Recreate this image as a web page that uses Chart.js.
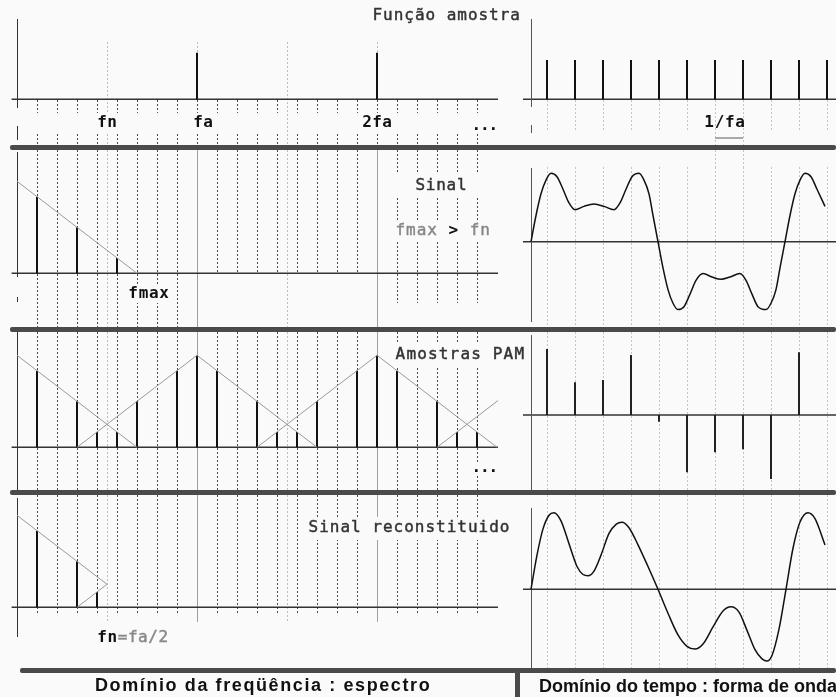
<!DOCTYPE html>
<html>
<head>
<meta charset="utf-8">
<script src="https://cdn.jsdelivr.net/npm/chart.js@4/dist/chart.umd.min.js"></script>
<style>
  html, body { margin: 0; padding: 0; background: #fafafa; }
  #stage { position: relative; width: 836px; height: 697px; overflow: hidden; background: #fafafa; }
  #stage canvas { position: absolute; }
  .rule { position: absolute; background: #4a4a4a; }
  .caption { position: absolute; font: bold 18px "Liberation Sans", Arial, sans-serif; color: #111;
             white-space: nowrap; line-height: 20px; }
</style>
</head>
<body>
<div id="stage">
  <canvas id="L1"></canvas><canvas id="L2"></canvas><canvas id="L3"></canvas><canvas id="L4"></canvas>
  <canvas id="R1"></canvas><canvas id="R2"></canvas><canvas id="R3"></canvas><canvas id="R4"></canvas>
  <div class="rule" style="left:10px;top:145px;width:826px;height:5px;border-radius:2px"></div>
  <div class="rule" style="left:10px;top:327px;width:826px;height:5px;border-radius:2px"></div>
  <div class="rule" style="left:10px;top:490px;width:826px;height:5px;border-radius:2px"></div>
  <div class="rule" style="left:20px;top:668px;width:816px;height:5px;border-radius:2px"></div>
  <div class="rule" style="left:515px;top:668px;width:5px;height:29px"></div>
  <div class="caption" style="left:95px;top:675px;letter-spacing:1.6px">Domínio da freqüência : espectro</div>
  <div class="caption" style="left:539px;top:676px;letter-spacing:0px">Domínio do tempo : forma de onda</div>
</div>
<script>
// ---------- frequency domain (unit = grid step, fa = 9, fn = fa/2) ----------
const freqGrid      = [1,2,3,4,5,6,7,8,9,10,11,12,13,14,15,16,17,18,19,20,21,22,23];
const nyquistLines  = [4.5, 13.5];
const rateLines     = [9, 18];

const pulseFreqs    = [9, 18];
const pulseAmps     = [1, 1];

const signalFreqs   = [1, 3, 5];
const signalAmps    = [5, 3, 1];
const signalEnvelope = [[[0, 6], [6, 0]]];

const pamFreqs = [1, 3, 4, 5, 6, 8, 9, 10, 12, 13, 14, 15, 17, 18, 19, 21, 22, 23];
const pamAmps  = [5, 3, 1, 1, 3, 5, 6, 5, 3, 1, 1, 3, 5, 6, 5, 3, 1, 1];
const pamEnvelope = [
  [[0, 6], [6, 0]],
  [[3, 0], [9, 6], [15, 0]],
  [[12, 0], [18, 6], [24, 0]],
  [[21, 0], [24.05, 3.05]]
];

const recFreqs    = [1, 3, 4];
const recAmps     = [5, 3, 1];
const recEnvelope = [[[0, 6], [4.5, 1.5], [3, 0]]];

// ---------- time domain ----------
const sampleTimes = [16, 44, 72, 100, 128, 156, 184, 212, 240, 268, 296];
const sampleAmps  = [1, 1, 1, 1, 1, 1, 1, 1, 1, 1, 1];

const signalT = [0, 5, 10, 15, 20, 26, 32, 38, 44, 53, 63, 73, 83, 89, 95, 101, 108, 113, 118, 122, 127,
                 132, 137, 142, 147, 153, 159, 165, 172, 181, 190, 199, 209, 215, 221, 227, 235, 240, 245, 249, 254,
                 259, 264, 269, 274, 280, 286, 294];
const signalV = [0, 2.3, 4.2, 5.4, 6.0, 5.7, 4.6, 3.4, 2.8, 3.1, 3.3, 3.1, 2.8, 3.4, 4.6, 5.7, 6.0, 5.4, 4.2, 2.3, 0,
                 -2.3, -4.2, -5.4, -5.95, -5.7, -4.6, -3.4, -2.8, -3.1, -3.3, -3.1, -2.8, -3.4, -4.6, -5.7, -5.95, -5.4, -4.2, -2.3, 0,
                 2.3, 4.2, 5.4, 6.0, 5.7, 4.6, 3.1];

const pamT = [16, 44, 72, 100, 128, 156, 184, 212, 240, 268];
const pamV = [5.79, 2.87, 3.07, 5.26, -0.59, -5.03, -3.27, -3.01, -5.61, 5.50];

const recT = [0, 6, 12, 18, 23, 30, 38, 46, 52, 57, 63, 70, 78, 85, 91, 98, 107, 117, 127,
              137, 147, 156, 164, 172, 182, 192, 200, 208, 216, 224, 231, 236, 241, 248, 255,
              262, 269, 277, 284, 294];
const recV = [0, 3.0, 5.3, 6.5, 6.72, 6.0, 4.0, 2.0, 1.3, 1.19, 1.6, 3.0, 4.9, 5.7, 5.88, 5.4, 3.9, 2.0, 0,
              -2.1, -4.0, -5.0, -5.24, -4.8, -3.3, -1.9, -1.53, -2.0, -3.6, -5.3, -6.1, -6.29, -5.8, -3.5, 0,
              3.6, 5.9, 6.72, 6.2, 3.89];

// ---------- helpers ----------
const MONO = '"DejaVu Sans Mono", "Liberation Mono", monospace';
const BG = '#fafafa';

function stems(xs, ys) {
  const d = [];
  xs.forEach((x, i) => { d.push({x, y: 0}, {x, y: ys[i]}, {x, y: null}); });
  return d;
}
function polylines(list) {
  const d = [];
  list.forEach(poly => { poly.forEach(p => d.push({x: p[0], y: p[1]})); d.push({x: poly[poly.length - 1][0], y: null}); });
  return d;
}
function series(xs, ys) { return xs.map((x, i) => ({x, y: ys[i]})); }

function stemSet(data, color, width) {
  return { data, borderColor: color, borderWidth: width, pointRadius: 0, spanGaps: false, tension: 0 };
}
function traceSet(data, color, width, smooth) {
  const s = { data, borderColor: color, borderWidth: width, pointRadius: 0, spanGaps: false, tension: 0 };
  if (smooth) s.cubicInterpolationMode = 'monotone';
  return s;
}

function vseg(ctx, x, y0, y1, color, width, dash) {
  ctx.save();
  ctx.strokeStyle = color; ctx.lineWidth = width; ctx.setLineDash(dash || []);
  const xx = Math.round(x) + (width % 2 ? 0.5 : 0);
  ctx.beginPath(); ctx.moveTo(xx, y0); ctx.lineTo(xx, y1); ctx.stroke();
  ctx.restore();
}
function hseg(ctx, x0, x1, y, color, width) {
  ctx.save();
  ctx.strokeStyle = color; ctx.lineWidth = width;
  ctx.beginPath(); ctx.moveTo(x0, y); ctx.lineTo(x1, y); ctx.stroke();
  ctx.restore();
}
// fixed-pitch text, drawn character by character; regular weight gets a hairline stroke
function mono(ctx, parts, x, y, pitch) {
  ctx.save();
  ctx.textBaseline = 'middle'; ctx.textAlign = 'center';
  let cx = x;
  parts.forEach(p => {
    ctx.font = (p.bold ? 'bold ' : '') + (p.size || 16) + 'px ' + MONO;
    ctx.fillStyle = p.color; ctx.strokeStyle = p.color; ctx.lineWidth = 0.45;
    for (const ch of p.t) {
      ctx.fillText(ch, cx + pitch / 2, y);
      if (!p.bold) ctx.strokeText(ch, cx + pitch / 2, y);
      cx += pitch;
    }
  });
  ctx.restore();
}
function blank(ctx, x, y, w, h) { ctx.save(); ctx.fillStyle = BG; ctx.fillRect(x, y, w, h); ctx.restore(); }

const DOT_DARK = '#4a4a4a', DOT_LIGHT = '#bdbdbd', AXIS = '#333';

function makePanel(id, left, top, w, h, xr, zero, ppu, datasets, decor) {
  const cv = document.getElementById(id);
  cv.width = w; cv.height = h;
  cv.style.left = left + 'px'; cv.style.top = top + 'px';
  cv.style.width = w + 'px'; cv.style.height = h + 'px';
  return new Chart(cv, {
    type: 'line',
    data: { datasets },
    options: {
      responsive: false, animation: false, devicePixelRatio: 1,
      layout: { padding: 0 },
      plugins: { legend: { display: false }, tooltip: { enabled: false } },
      scales: {
        x: { type: 'linear', display: false, min: xr[0], max: xr[1] },
        y: { type: 'linear', display: false, min: -(h - zero) / ppu, max: zero / ppu }
      }
    },
    plugins: [{
      id: 'decor',
      beforeDatasetsDraw(chart) {
        const X = v => chart.scales.x.getPixelForValue(v);
        const Y = v => chart.scales.y.getPixelForValue(v);
        decor(chart.ctx, X, Y, h);
      }
    }]
  });
}

const LW = 536, RX = 515, RW = 321;
const FX = [-0.85, -0.85 + LW / 20];   // frequency axis range
const TX = [-16, -16 + RW];             // time axis range

// ---------- left column: spectra ----------
makePanel('L1', 0, 0, LW, 145, FX, 99.3, 46.6,
  [stemSet(stems(pulseFreqs, pulseAmps), '#111', 2)],
  (ctx, X, Y, h) => {
    freqGrid.forEach(u => { vseg(ctx, X(u), 100, 113, DOT_DARK, 1, [2, 2]); vseg(ctx, X(u), 134, 145, DOT_DARK, 1, [2, 2]); });
    nyquistLines.forEach(u => vseg(ctx, X(u), 42, 145, DOT_LIGHT, 1, [2, 2]));
    rateLines.forEach(u => vseg(ctx, X(u), 42, 53, DOT_LIGHT, 1, [2, 2]));
    hseg(ctx, X(-0.27), X(24.05), Y(0), AXIS, 1.5);
    vseg(ctx, X(0), 19, 108, AXIS, 1); vseg(ctx, X(0), 126, 140, AXIS, 1);
    mono(ctx, [{t: 'Função amostra', color: '#333'}], 372, 16, 10.6);
    blank(ctx, X(4.5) - 11, 114, 22, 19);
    mono(ctx, [{t: 'fn', bold: true, color: '#111'}], X(4.5) - 10, 123, 10);
    mono(ctx, [{t: 'fa', bold: true, color: '#111'}], X(9) - 4, 123, 10);
    mono(ctx, [{t: '2fa', bold: true, color: '#111'}], X(18) - 15, 123, 10);
    mono(ctx, [{t: '...', bold: true, color: '#111'}], X(22.75), 126, 8.5);
  });

makePanel('L2', 0, 150, LW, 177, FX, 123.3, 15.33,
  [traceSet(polylines(signalEnvelope), '#999', 1, false),
   stemSet(stems(signalFreqs, signalAmps), '#111', 2)],
  (ctx, X, Y, h) => {
    freqGrid.forEach(u => {
      if (rateLines.includes(u)) return;
      let end = h;
      if (u > 9 && u < 18) end = Y(0);
      if (u > 18) end = 153;
      vseg(ctx, X(u), 0, end, DOT_DARK, 1, [2, 2]);
    });
    rateLines.forEach(u => vseg(ctx, X(u), 0, h, '#a0a0a0', 1));
    nyquistLines.forEach(u => vseg(ctx, X(u), 0, h, DOT_LIGHT, 1, [2, 2]));
    hseg(ctx, X(-0.27), X(24.05), Y(0), AXIS, 1.5);
    vseg(ctx, X(0), 2, 127, AXIS, 1); vseg(ctx, X(0), 147, 152, AXIS, 1);
    blank(ctx, 388, 24, 112, 22);
    mono(ctx, [{t: 'Sinal', color: '#333'}], 415, 36, 10.4);
    blank(ctx, 388, 70, 112, 21);
    mono(ctx, [{t: 'fmax', color: '#888'}, {t: ' ', color: '#888'}, {t: '>', bold: true, color: '#111'},
               {t: ' fn', color: '#888'}], 395, 81, 10.6);
    blank(ctx, X(5.5), 134, 48, 19);
    mono(ctx, [{t: 'fmax', bold: true, color: '#111'}], 128, 144, 10.3);
  });

makePanel('L3', 0, 332, LW, 158, FX, 115.3, 15.33,
  [traceSet(polylines(pamEnvelope), '#999', 1, false),
   stemSet(stems(pamFreqs, pamAmps), '#111', 2)],
  (ctx, X, Y, h) => {
    freqGrid.forEach(u => { if (!rateLines.includes(u)) vseg(ctx, X(u), 0, h, DOT_DARK, 1, [2, 2]); });
    rateLines.forEach(u => vseg(ctx, X(u), 0, h, '#a0a0a0', 1));
    nyquistLines.forEach(u => vseg(ctx, X(u), 0, h, DOT_LIGHT, 1, [2, 2]));
    hseg(ctx, X(-0.27), X(24.05), Y(0), AXIS, 1.5);
    vseg(ctx, X(0), 0, h, AXIS, 1);
    blank(ctx, 390, 12, 140, 22);
    mono(ctx, [{t: 'Amostras PAM', color: '#333'}], 395, 23, 10.8);
    blank(ctx, 470, 130, 30, 14);
    mono(ctx, [{t: '...', bold: true, color: '#111'}], 472, 136, 8.5);
  });

makePanel('L4', 0, 495, LW, 173, FX, 112.3, 15.33,
  [traceSet(polylines(recEnvelope), '#999', 1, false),
   stemSet(stems(recFreqs, recAmps), '#111', 2)],
  (ctx, X, Y, h) => {
    freqGrid.forEach(u => { if (!rateLines.includes(u)) vseg(ctx, X(u), 0, 118, DOT_DARK, 1, [2, 2]); });
    rateLines.forEach(u => vseg(ctx, X(u), 0, 127, '#a0a0a0', 1));
    nyquistLines.forEach(u => vseg(ctx, X(u), 0, 128, DOT_LIGHT, 1, [2, 2]));
    hseg(ctx, X(-0.27), X(24.05), Y(0), AXIS, 1.5);
    vseg(ctx, X(0), 3, 142, AXIS, 1);
    blank(ctx, 300, 22, 215, 23);
    mono(ctx, [{t: 'Sinal reconstituido', color: '#333'}], 308, 33, 10.63);
    mono(ctx, [{t: 'fn', bold: true, color: '#111'}, {t: '=fa/2', color: '#888'}], 97, 143, 10.2);
  });

// ---------- right column: waveforms ----------
function timeGrid(ctx, X, y0, y1) { sampleTimes.forEach(t => vseg(ctx, X(t), y0, y1, '#c4c4c4', 1, [2, 2])); }

makePanel('R1', RX, 0, RW, 145, TX, 99.3, 39.3,
  [stemSet(stems(sampleTimes, sampleAmps), '#111', 2)],
  (ctx, X, Y, h) => {
    timeGrid(ctx, X, 100, 132);
    vseg(ctx, X(184), 132, 145, '#c4c4c4', 1, [2, 2]); vseg(ctx, X(212), 132, 145, '#c4c4c4', 1, [2, 2]);
    hseg(ctx, X(-8), X(305), Y(0), AXIS, 1.5);
    vseg(ctx, X(0), 19, 107, '#555', 1); vseg(ctx, X(0), 125, 133, '#555', 1);
    hseg(ctx, X(184), X(212), 138, '#aaa', 2);
    mono(ctx, [{t: '1/fa', bold: true, color: '#111'}], X(184) - 11, 123, 10.3);
  });

makePanel('R2', RX, 150, RW, 177, TX, 91.7, 11.4,
  [traceSet(series(signalT, signalV), '#111', 1.5, true)],
  (ctx, X, Y, h) => {
    timeGrid(ctx, X, 17, h);
    vseg(ctx, X(184), 0, 17, '#c4c4c4', 1, [2, 2]); vseg(ctx, X(212), 0, 17, '#c4c4c4', 1, [2, 2]);
    hseg(ctx, X(-8), X(305), Y(0), AXIS, 1.5);
    vseg(ctx, X(0), 18, 172, '#555', 1);
  });

makePanel('R3', RX, 332, RW, 158, TX, 83, 11.4,
  [stemSet(stems(pamT, pamV), '#222', 2)],
  (ctx, X, Y, h) => {
    timeGrid(ctx, X, 0, h);
    hseg(ctx, X(-8), X(305), Y(0), AXIS, 1.5);
    vseg(ctx, X(0), 3, h, '#555', 1);
  });

makePanel('R4', RX, 495, RW, 173, TX, 94.3, 11.4,
  [traceSet(series(recT, recV), '#111', 1.5, true)],
  (ctx, X, Y, h) => {
    timeGrid(ctx, X, 0, h);
    hseg(ctx, X(-8), X(305), Y(0), AXIS, 1.5);
    vseg(ctx, X(0), 13, h, '#555', 1);
  });
</script>
</body>
</html>
